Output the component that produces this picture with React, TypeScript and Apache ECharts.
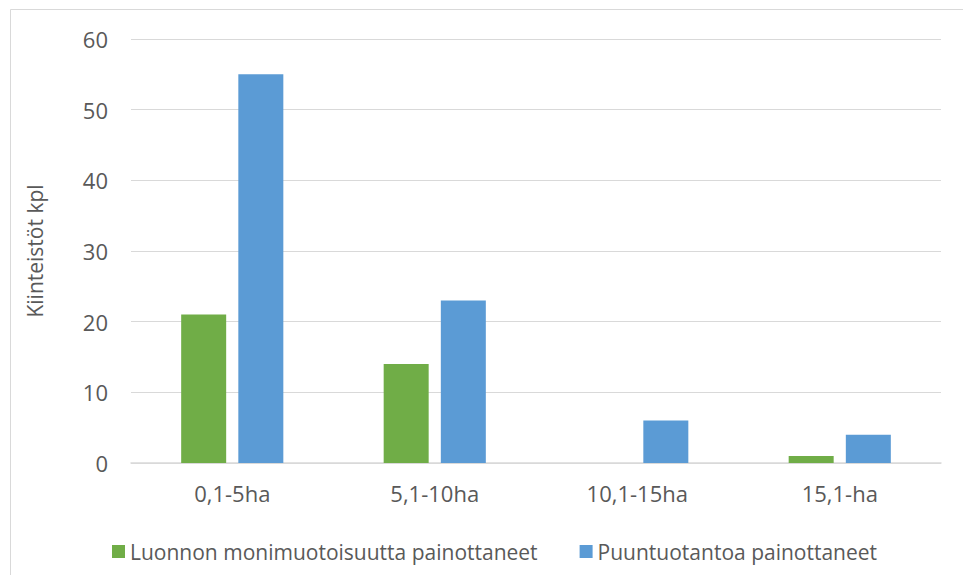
import React, { useEffect, useRef } from "react";
import * as echarts from "echarts";

const categories = ["0,1-5ha", "5,1-10ha", "10,1-15ha", "15,1-ha"];
const seriesNames = ["Luonnon monimuotoisuutta painottaneet", "Puuntuotantoa painottaneet"];
const greenValues = [21, 14, 0, 1];
const blueValues = [55, 23, 6, 4];
const yAxisName = "Kiinteistöt kpl";

export default function App() {
  const ref = useRef<HTMLDivElement>(null);
  useEffect(() => {
    if (!ref.current) return;
    const chart = echarts.init(ref.current, null, { renderer: "svg" });
    const font = "'Open Sans', sans-serif";
    const textColor = "#595959";
    chart.setOption({
      animation: false,
      backgroundColor: "#ffffff",
      textStyle: { fontFamily: font },
      graphic: [
        {
          type: "rect",
          shape: { x: 10.5, y: 9.5, width: 1000, height: 1000 },
          style: { fill: "none", stroke: "#d9d9d9", lineWidth: 1 },
          silent: true,
        },
      ],
      grid: { left: 131, right: 22, top: 39, bottom: 112, containLabel: false },
      legend: {
        data: seriesNames,
        left: 107,
        top: 536,
        itemWidth: 13,
        itemHeight: 13,
        itemGap: 42,
        icon: "rect",
        textStyle: { color: textColor, fontSize: 21, fontFamily: font },
      },
      xAxis: {
        type: "category",
        data: categories,
        axisLine: { lineStyle: { color: "#d9d9d9", width: 1.5 } },
        axisTick: { show: false },
        axisLabel: { color: textColor, fontSize: 22, fontFamily: font, margin: 19 },
      },
      yAxis: {
        type: "value",
        min: 0,
        max: 60,
        interval: 10,
        name: yAxisName,
        nameLocation: "middle",
        nameGap: 86,
        nameTextStyle: { color: textColor, fontSize: 21, fontFamily: font },
        axisLine: { show: false },
        axisTick: { show: false },
        axisLabel: { color: textColor, fontSize: 22, fontFamily: font, margin: 23 },
        splitLine: { lineStyle: { color: "#d9d9d9", width: 1 } },
      },
      series: [
        {
          name: seriesNames[0],
          type: "bar",
          data: greenValues,
          barWidth: 45,
          barGap: "27%",
          itemStyle: { color: "#70ad47" },
        },
        {
          name: seriesNames[1],
          type: "bar",
          data: blueValues,
          barWidth: 45,
          barGap: "27%",
          itemStyle: { color: "#5b9bd5" },
        },
      ],
    });
    return () => chart.dispose();
  }, []);
  return (
    <div
      ref={ref}
      style={{ position: "fixed", left: 0, top: 0, width: 963, height: 575 }}
    />
  );
}
